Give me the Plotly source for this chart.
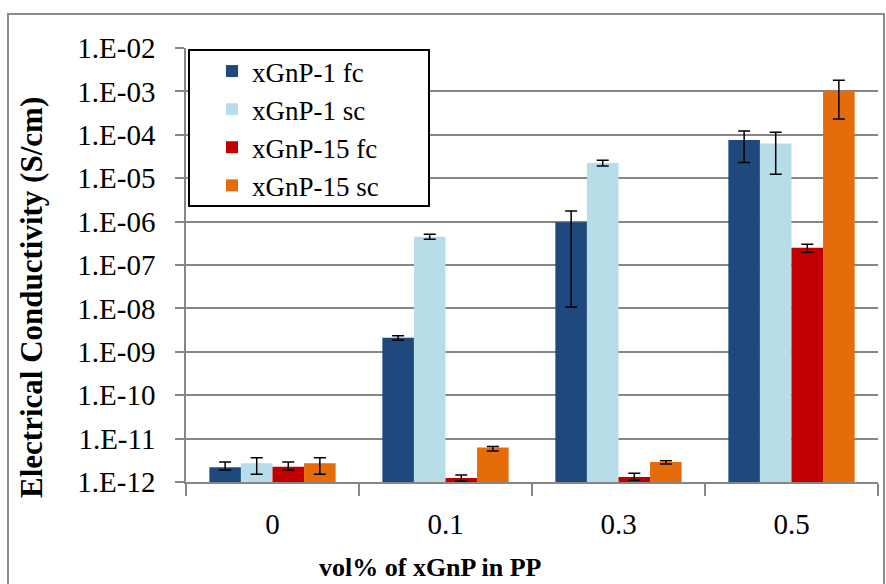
import plotly.graph_objects as go

categories = ["0", "0.1", "0.3", "0.5"]
series_names = ["xGnP-1 fc", "xGnP-1 sc", "xGnP-15 fc", "xGnP-15 sc"]
colors = ["#1F497D", "#B7DEE8", "#C00000", "#E46C0A"]

xgnp1_fc = [2.2e-12, 2.1e-9, 9.6e-7, 7.6e-5]
xgnp1_sc = [2.7e-12, 4.5e-7, 2.25e-5, 6.3e-5]
xgnp15_fc = [2.25e-12, 1.24e-12, 1.3e-12, 2.5e-7]
xgnp15_sc = [2.7e-12, 6.2e-12, 2.9e-12, 1.04e-3]

# upper / lower ends of error bars
xgnp1_fc_hi = [2.9e-12, 2.35e-9, 1.75e-6, 1.23e-4]
xgnp1_fc_lo = [1.9e-12, 1.85e-9, 1.07e-8, 2.3e-5]
xgnp1_sc_hi = [3.6e-12, 5.1e-7, 2.6e-5, 1.14e-4]
xgnp1_sc_lo = [1.5e-12, 3.9e-7, 1.9e-5, 1.23e-5]
xgnp15_fc_hi = [2.9e-12, 1.45e-12, 1.6e-12, 3.0e-7]
xgnp15_fc_lo = [1.9e-12, 1.05e-12, 1.1e-12, 1.96e-7]
xgnp15_sc_hi = [3.6e-12, 6.6e-12, 3.1e-12, 1.8e-3]
xgnp15_sc_lo = [1.5e-12, 5.2e-12, 2.6e-12, 2.3e-4]

ytick_vals = [1e-12, 1e-11, 1e-10, 1e-9, 1e-8, 1e-7, 1e-6, 1e-5, 1e-4, 1e-3, 1e-2]
ytick_text = ["1.E-12", "1.E-11", "1.E-10", "1.E-09", "1.E-08", "1.E-07",
              "1.E-06", "1.E-05", "1.E-04", "1.E-03", "1.E-02"]

series_vals = [xgnp1_fc, xgnp1_sc, xgnp15_fc, xgnp15_sc]
series_hi = [xgnp1_fc_hi, xgnp1_sc_hi, xgnp15_fc_hi, xgnp15_sc_hi]
series_lo = [xgnp1_fc_lo, xgnp1_sc_lo, xgnp15_fc_lo, xgnp15_sc_lo]

FONT = "Liberation Serif"

fig = go.Figure()
for name, col, vals, hi, lo in zip(series_names, colors, series_vals, series_hi, series_lo):
    fig.add_trace(go.Bar(
        name=name, x=categories, y=vals, marker=dict(color=col, line=dict(width=0)),
        error_y=dict(type="data", symmetric=False,
                     array=[h - v for h, v in zip(hi, vals)],
                     arrayminus=[v - l for v, l in zip(vals, lo)],
                     color="#000000", thickness=1.5, width=6),
    ))

# plot area: left 186, right 878, top 48, bottom 482 (px)
W, H = 886, 584
L, R, T, B = 186, 878, 48, 482
def px(xp):
    return (xp - L) / (R - L)
def py(yp):
    return (B - yp) / (B - T)

fig.update_layout(
    width=W, height=H,
    margin=dict(l=L, r=W - R, t=T, b=H - B, autoexpand=False),
    paper_bgcolor="white", plot_bgcolor="white",
    barmode="group", bargap=0.27, bargroupgap=0,
    font=dict(family=FONT, size=29, color="#000000"),
    showlegend=True,
    legend=dict(x=px(212), y=py(47), xanchor="left", yanchor="top",
                bgcolor="rgba(0,0,0,0)", borderwidth=0,
                font=dict(family=FONT, size=27), tracegroupgap=0,
                itemsizing="constant"),
    xaxis=dict(type="category", showline=True, linecolor="#868686", linewidth=1.5,
               ticks="outside", tickson="boundaries", ticklen=12, tickcolor="#868686",
               tickwidth=1.5, showgrid=False, ticklabelstandoff=15,
               tickfont=dict(family=FONT, size=29)),
    yaxis=dict(type="log", range=[-12, -2], tickvals=ytick_vals, ticktext=ytick_text,
               showline=True, linecolor="#868686", linewidth=1.5,
               ticks="outside", ticklen=9, tickcolor="#868686", tickwidth=1.5,
               showgrid=True, gridcolor="#868686", gridwidth=1.5,
               ticklabelstandoff=14, zeroline=False,
               tickfont=dict(family=FONT, size=29)),
    shapes=[
        # chart-area border
        dict(type="rect", xref="paper", yref="paper",
             x0=px(8), x1=px(884), y0=py(600), y1=py(14),
             line=dict(color="#8C8C8C", width=2), fillcolor="rgba(0,0,0,0)", layer="below"),
        # legend box
        dict(type="rect", xref="paper", yref="paper",
             x0=px(189), x1=px(429), y0=py(206), y1=py(50),
             line=dict(color="#000000", width=2), fillcolor="white", layer="above"),
    ],
    annotations=[
        dict(text="<b>Electrical Conductivity (S/cm)</b>", xref="paper", yref="paper",
             x=px(31), y=py(298), textangle=-90, showarrow=False,
             font=dict(family=FONT, size=31), xanchor="center", yanchor="middle"),
        dict(text="<b>vol% of xGnP in PP</b>", xref="paper", yref="paper",
             x=px(430), y=py(567), showarrow=False,
             font=dict(family=FONT, size=26), xanchor="center", yanchor="middle"),
    ],
)

fig.write_html("out.html")
